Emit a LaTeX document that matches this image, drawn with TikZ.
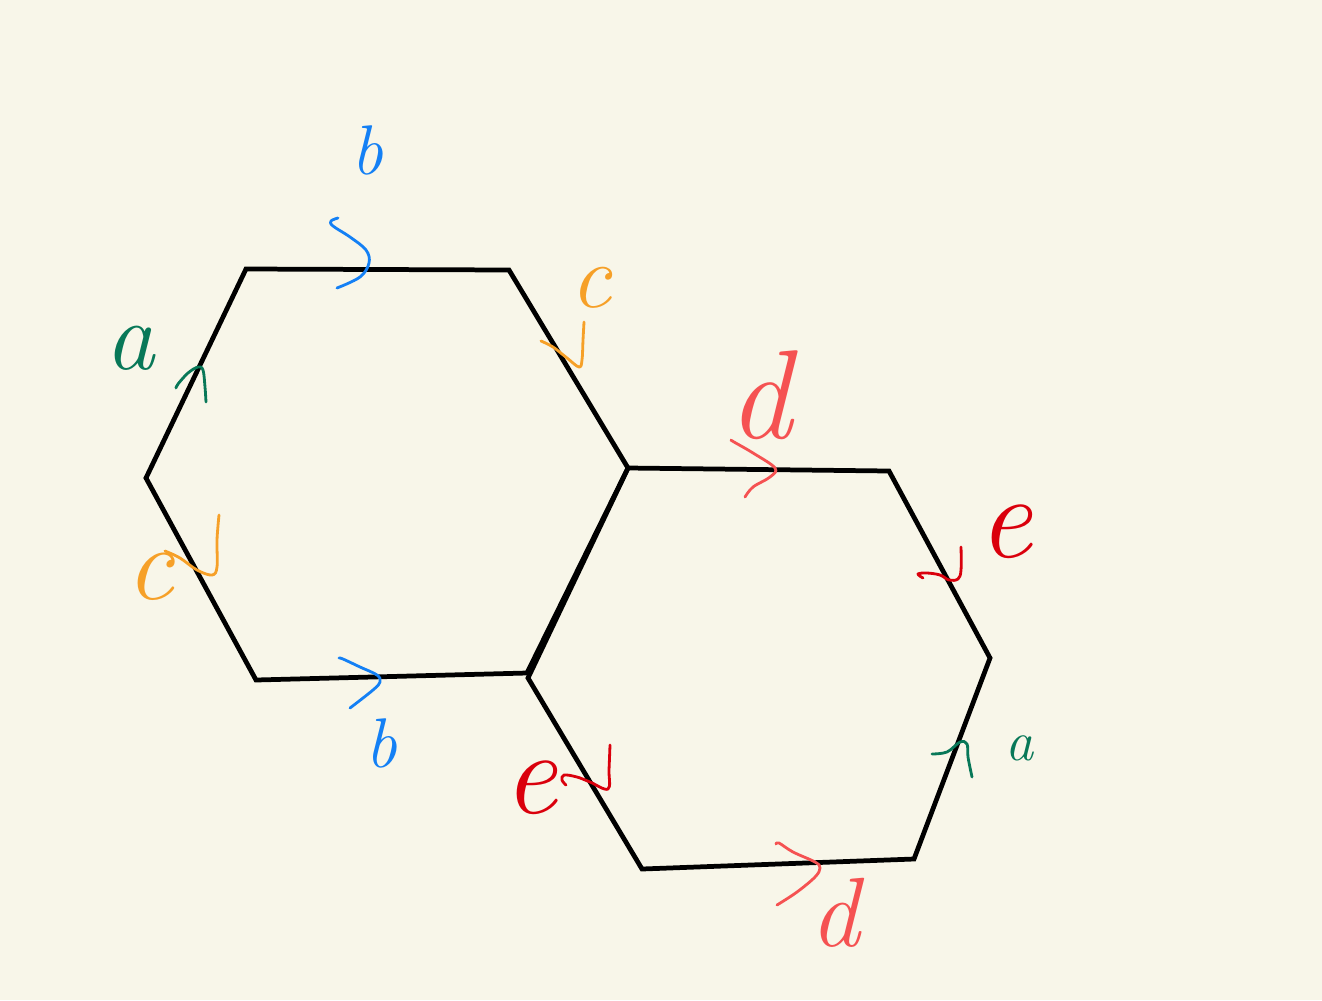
\documentclass[tikz,border=0pt]{standalone}
\usepackage{tikz}
\definecolor{bgc}{RGB}{248,246,233}
\definecolor{hblue}{RGB}{20,128,245}
\definecolor{hgreen}{RGB}{8,120,88}
\definecolor{horange}{RGB}{246,160,40}
\definecolor{hpink}{RGB}{245,82,82}
\definecolor{hred}{RGB}{218,0,12}
\tikzset{
  edge/.style={line width=1.35pt, line join=miter, black},
  mk/.style={line width=0.8pt, line cap=round, line join=round},
  lt/.style={inner sep=0pt, font=\itshape},
}
\begin{document}
\begin{tikzpicture}[x=0.01cm, y=-0.01cm]
\fill[bgc] (0,0) rectangle (1322,1000);
\useasboundingbox (0,0) rectangle (1322,1000);
% hexagon 1
\coordinate (A1) at (246,269);
\coordinate (A2) at (509,270);
\coordinate (A3) at (628,468);
\coordinate (A4) at (527,673);
\coordinate (A5) at (256,680);
\coordinate (A6) at (146,478);
% hexagon 2
\coordinate (B2) at (889,471);
\coordinate (B3) at (990,658);
\coordinate (B4) at (914,859);
\coordinate (B5) at (642,869);
\coordinate (B6) at (528,678);
\draw[edge] (A1) -- (A2) -- (A3) -- (A4) -- (A5) -- (A6) -- cycle;
\draw[edge] (A3) -- (B2) -- (B3) -- (B4) -- (B5) -- (B6) -- cycle;
% marks
\draw[mk, hblue] plot[smooth, tension=0.6] coordinates {(338,218) (331,221) (333,226) (350,237) (366,250) (369,263) (360,277) (337,288)};
\draw[mk, hgreen] plot[smooth, tension=0.6] coordinates {(176,388) (178,384) (188,373) (198,367) (203,370) (205,387) (206,402)};
\draw[mk, horange] plot[smooth, tension=0.6] coordinates {(541,341) (553,347) (567,358) (579,367) (582,360) (583,340) (584,322)};
\draw[mk, horange] plot[smooth, tension=0.6] coordinates {(165,551) (180,558) (197,570) (212,575) (217,567) (217,540) (219,515)};
\draw[mk, hblue] plot[smooth, tension=0.6] coordinates {(339,658) (343,659) (360,667) (377,675) (380,682) (373,690) (350,708)};
\draw[mk, hpink] plot[smooth, tension=0.6] coordinates {(731,440) (734,442) (753,453) (775,468) (770,477) (753,487) (745,497)};
\draw[mk, hred] plot[smooth, tension=0.6] coordinates {(923,578) (918,574) (927,573) (940,575) (949,580) (958,579) (961,570) (961,547)};
\draw[mk, hgreen] plot[smooth, tension=0.6] coordinates {(932,754) (947,752) (960,742) (967,744) (968,757) (972,777)};
\draw[mk, hred] plot[smooth, tension=0.6] coordinates {(566,785) (562,780) (564,775) (577,777) (590,782) (608,789) (609,770) (610,745)};
\draw[mk, hpink] plot[smooth, tension=0.6] coordinates {(776,844) (779,843) (793,852) (815,862) (820,868) (815,877) (797,892) (777,905)};
% letters
\node[lt, text=hblue, font=\itshape\fontsize{20}{24}\selectfont] (lb1) at (367,150) {b};
\node[lt, text=hgreen, font=\itshape\fontsize{28}{32}\selectfont] (la1) at (130,348) {a};
\node[lt, text=horange, font=\itshape\fontsize{26}{30}\selectfont] (lc1) at (591,288) {c};
\node[lt, text=horange, font=\itshape\fontsize{30}{34}\selectfont] (lc2) at (150,577) {c};
\node[lt, text=hblue, font=\itshape\fontsize{20}{24}\selectfont] (lb2) at (381,743) {b};
\node[lt, text=hpink, font=\itshape\fontsize{36}{40}\selectfont] (ld1) at (760,395) {d};
\node[lt, text=hred, font=\itshape\fontsize{34}{38}\selectfont] (le1) at (1005,532) {e};
\node[lt, text=hgreen, font=\itshape\fontsize{16}{20}\selectfont] (la2) at (1020,748) {a};
\node[lt, text=hred, font=\itshape\fontsize{34}{38}\selectfont] (le2) at (530,788) {e};
\node[lt, text=hpink, font=\itshape\fontsize{28}{32}\selectfont] (ld2) at (835,913) {d};
\end{tikzpicture}
\end{document}
